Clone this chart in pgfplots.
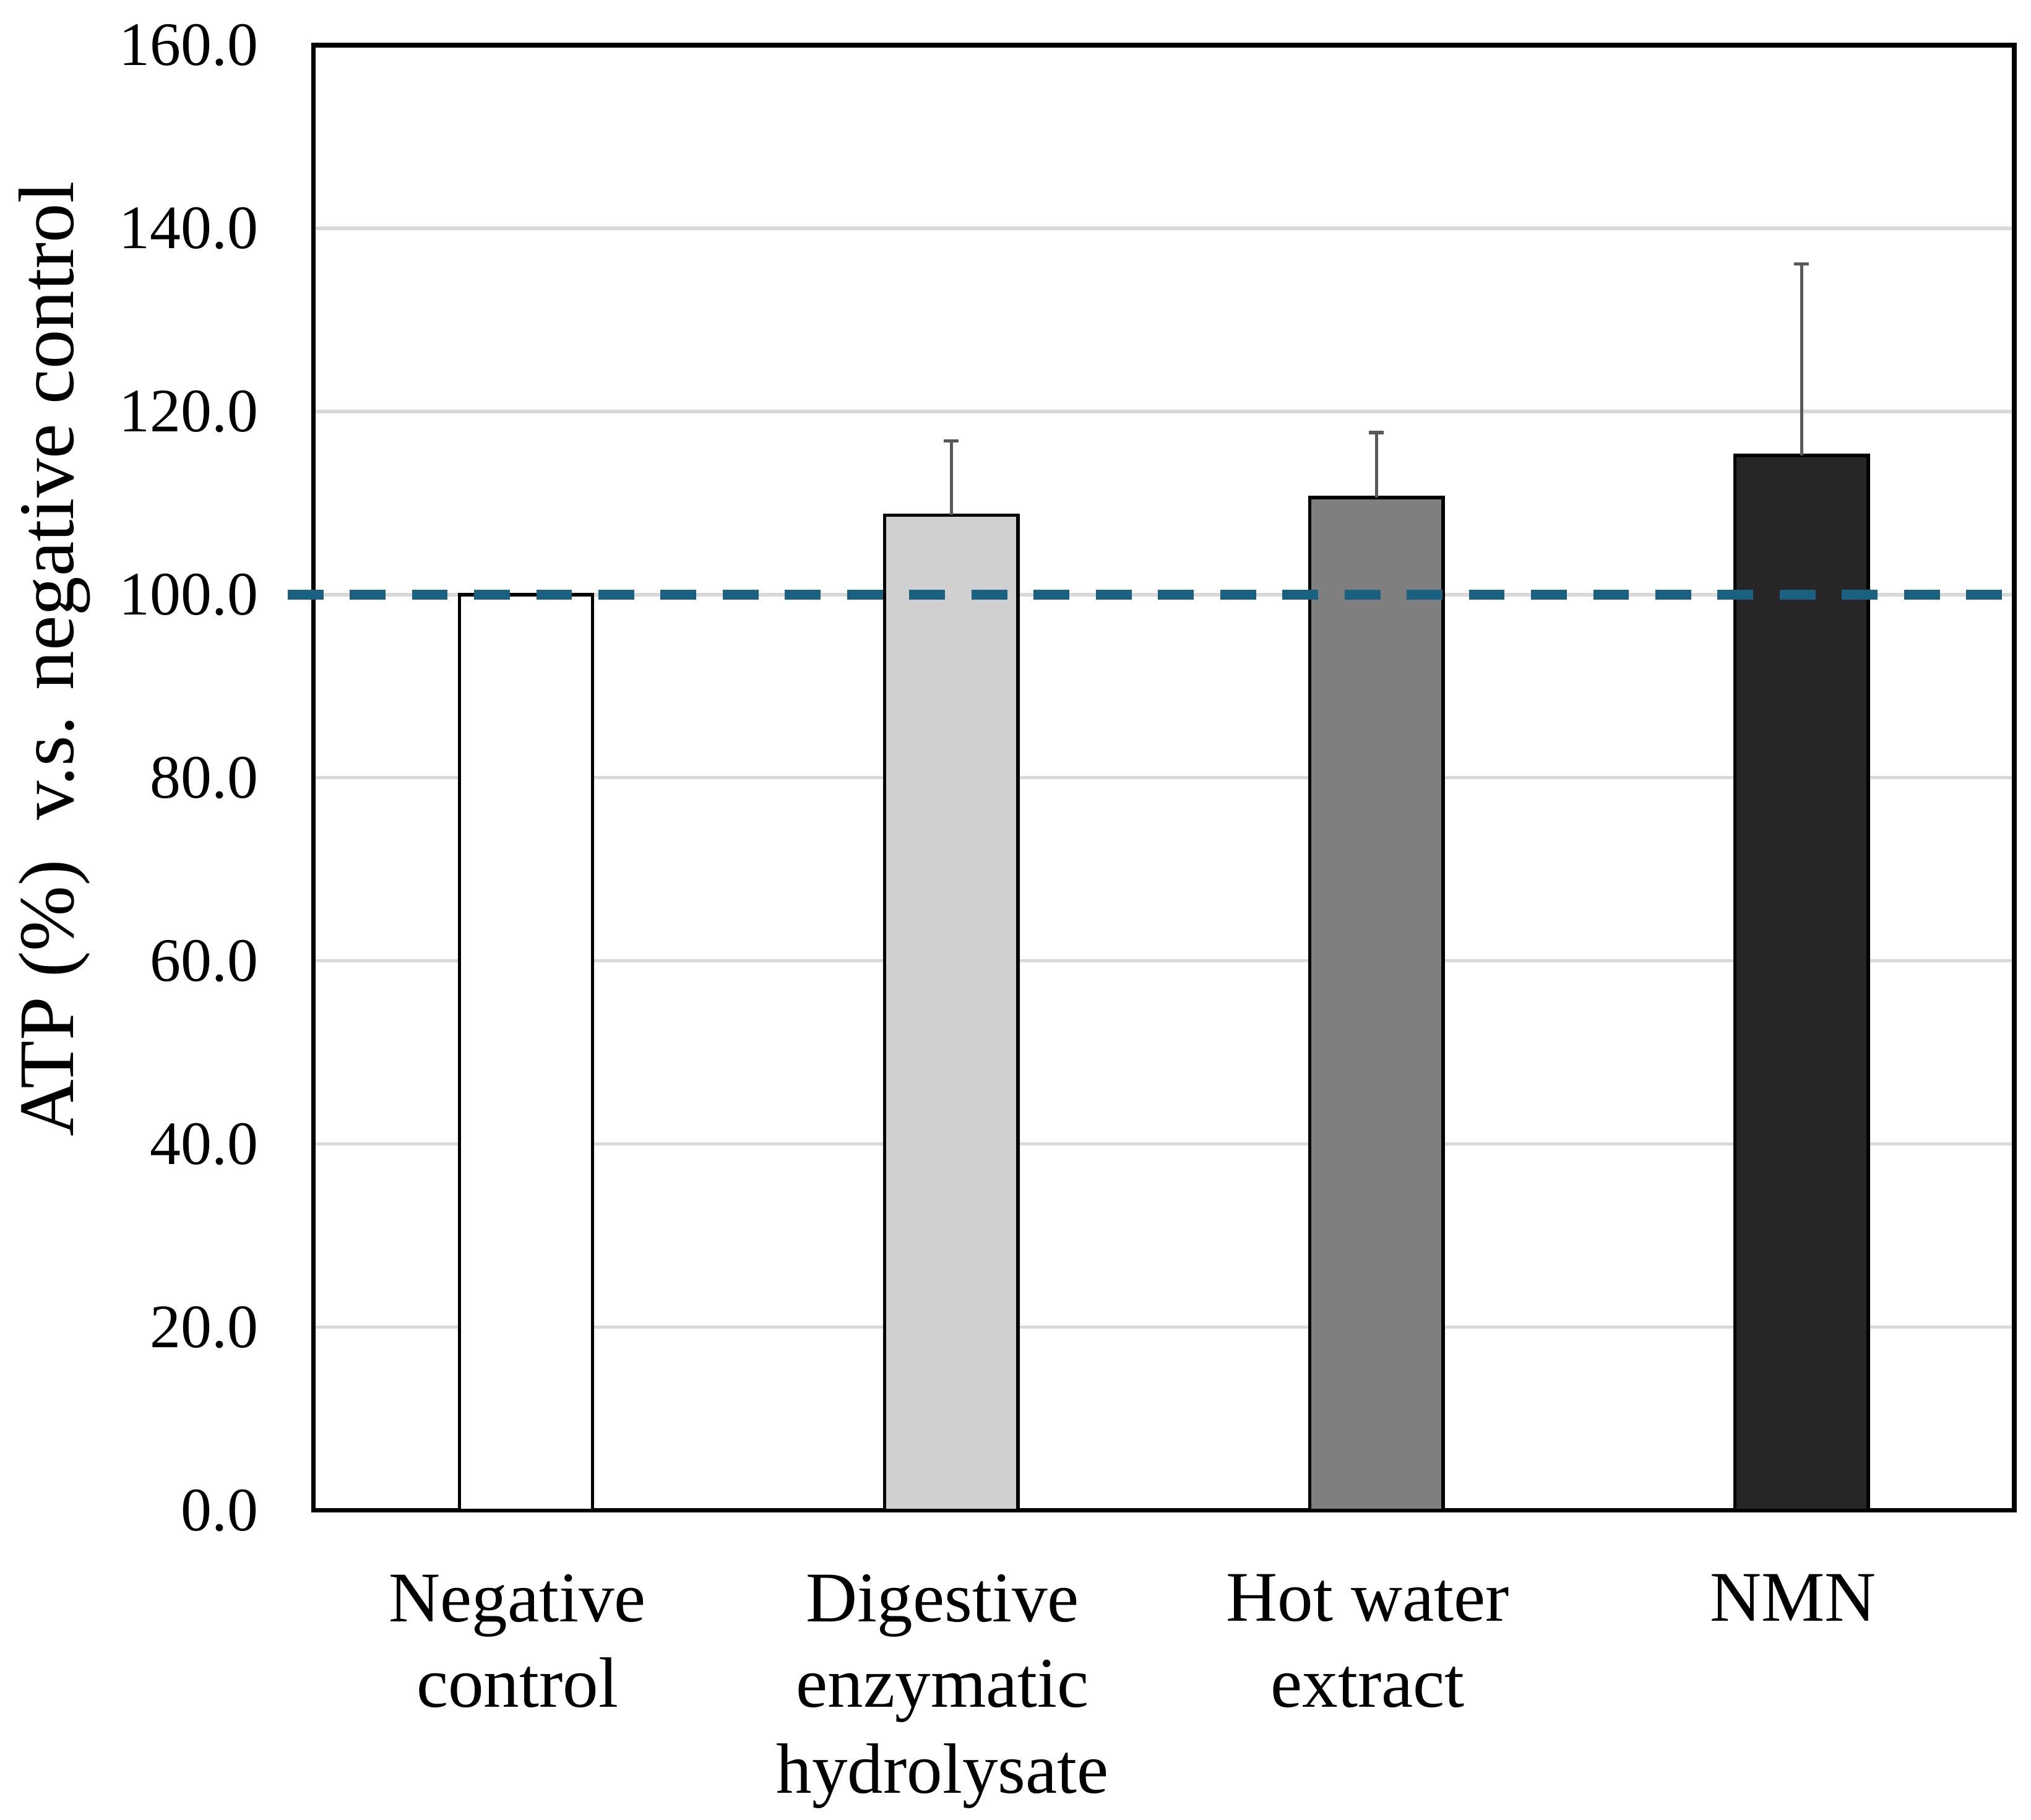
\documentclass[border=0pt]{standalone}
\usepackage{fontspec}
\setmainfont{Liberation Serif}
\usepackage{pgfplots}
\pgfplotsset{compat=1.18}

\definecolor{refline}{RGB}{26,96,128}
\definecolor{gridgray}{RGB}{217,217,217}
\definecolor{errgray}{RGB}{89,89,89}

\begin{document}
\begin{tikzpicture}
\begin{axis}[
    name=ax,
    scale only axis,
    width=393.9pt, height=339.3pt,
    xmin=-0.5, xmax=3.5,
    ymin=0, ymax=160,
    ytick distance=20,
    xtick={0,1,2,3},
    xticklabels={Negative\\control, Digestive\\enzymatic\\hydrolysate, Hot water\\extract, NMN},
    major tick length=0pt,
    ymajorgrids=true,
    grid style={gridgray, line width=0.75pt},
    axis line style={black, line width=1.1pt},
    clip=false,
    /pgf/number format/assume math mode=true,
    yticklabel={\pgfmathprintnumber[fixed, fixed zerofill, precision=1]{\tick}},
    yticklabel style={font=\fontsize{14.3}{17}\selectfont, anchor=east, inner sep=0pt, xshift=-12.6pt},
    xticklabel style={font=\fontsize{16.5}{19.8}\selectfont, align=center, anchor=north, inner sep=0pt, yshift=-14.7pt, xshift=-2pt},
    ylabel={ATP (\%)\ \ v.s. negative control},
    every axis y label/.style={at={(rel axis cs:0,0.581)}, rotate=90, anchor=base, yshift=55.6pt, font=\fontsize{18.2}{21}\selectfont},
    ybar, bar width=30.9pt, bar shift=0pt,
    error bars/y dir=plus, error bars/y explicit,
    error bars/error bar style={errgray, line width=0.75pt},
    error bars/error mark options={rotate=90, mark size=1.7pt, line width=0.75pt, errgray},
]
\addplot[draw=black, line width=0.75pt, fill=white] coordinates {(0,100)};
\addplot[draw=black, line width=0.75pt, fill={rgb,255:red,208;green,208;blue,208}] coordinates {(1,108.7) +- (0,8.1)};
\addplot[draw=black, line width=0.75pt, fill={rgb,255:red,127;green,127;blue,127}] coordinates {(2,110.6) +- (0,7.1)};
\addplot[draw=black, line width=0.75pt, fill={rgb,255:red,38;green,38;blue,38}] coordinates {(3,115.2) +- (0,20.9)};
% reference line at 100 %
\addplot[sharp plot, refline, line width=2.2pt, dash pattern=on 8.3pt off 6.1pt, forget plot] coordinates {(-0.561,100) (3.5,100)};
\end{axis}
\path ([shift={(-72.6pt,-71.7pt)}]ax.south west) rectangle ([shift={(3.9pt,10.5pt)}]ax.north east);
\end{tikzpicture}
\end{document}
